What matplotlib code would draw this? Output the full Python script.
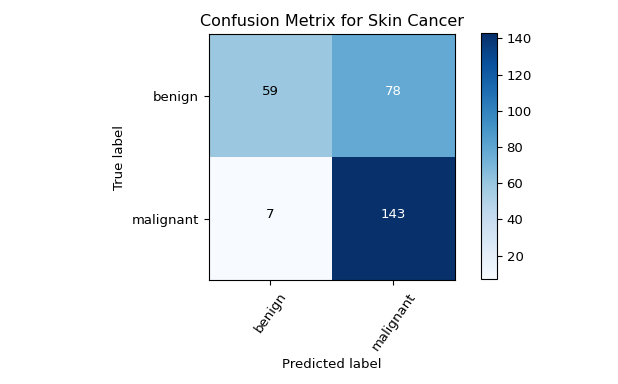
import numpy as np
import matplotlib
matplotlib.use("Agg")
import matplotlib.pyplot as plt

classes = ["benign", "malignant"]
cm = np.array([[59, 78],
               [7, 143]])
title = "Confusion Metrix for Skin Cancer"

fig = plt.figure(figsize=(6.18, 3.84), dpi=100)
ax = fig.add_axes([0.338, 0.266, 0.398, 0.648])
cax = fig.add_axes([0.779, 0.273, 0.025, 0.641])

im = ax.imshow(cm, interpolation="nearest", cmap=plt.cm.Blues)
ax.set_title(title, fontsize=11.5)
cb = fig.colorbar(im, cax=cax)
cb.ax.tick_params(labelsize=9.5)

ticks = np.arange(len(classes))
ax.set_xticks(ticks)
ax.set_xticklabels(classes, rotation=55, fontsize=9.5)
ax.set_yticks(ticks)
ax.set_yticklabels(classes, fontsize=9.5)

thresh = cm.max() / 2.0
for i in range(cm.shape[0]):
    for j in range(cm.shape[1]):
        ax.text(j, i - 0.04, format(cm[i, j], "d"), ha="center", va="center",
                fontsize=9.5,
                color="white" if cm[i, j] > thresh else "black")

ax.set_ylabel("True label", fontsize=9.5)
ax.set_xlabel("Predicted label", fontsize=9.5)

fig.savefig("out.png", dpi=100)
